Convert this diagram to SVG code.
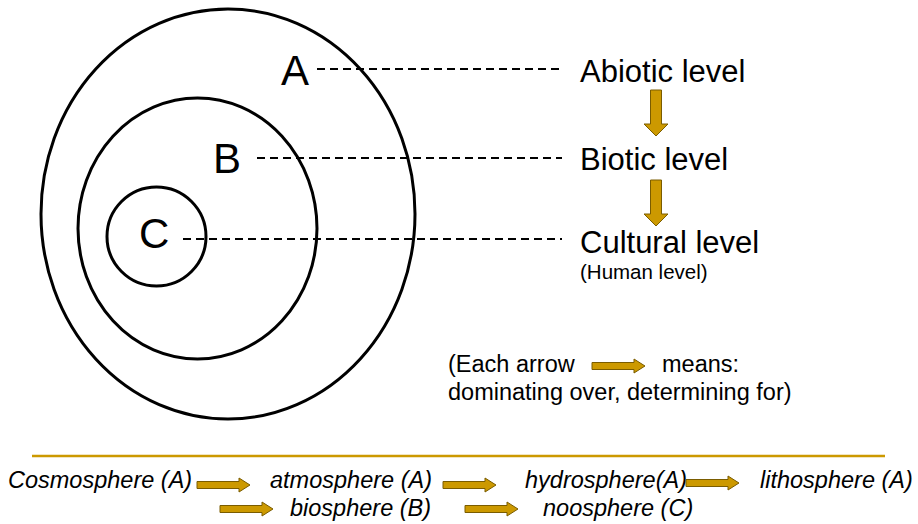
<svg xmlns="http://www.w3.org/2000/svg" xmlns:xlink="http://www.w3.org/1999/xlink" width="918" height="524" viewBox="0 0 918 524">
<style>
.ring{fill:none;stroke:#000;stroke-width:3}
.dash{fill:none;stroke:#000;stroke-width:2;stroke-dasharray:8 5}
.big{font-family:"Liberation Sans",Arial,sans-serif;font-size:42px;fill:#000}
.lvl{font-family:"Liberation Sans",Arial,sans-serif;font-size:31px;fill:#000}
.sub{font-family:"Liberation Sans",Arial,sans-serif;font-size:20.5px;fill:#000}
.leg{font-family:"Liberation Sans",Arial,sans-serif;font-size:23.5px;fill:#000}
.sph{font-family:"Liberation Sans",Arial,sans-serif;font-size:23.5px;font-style:italic;fill:#000}
.arr{fill:#CC9900;stroke:#7a5c00;stroke-width:1}
</style>
<defs>
<path id="harrow" class="arr" d="M0,-3.5 H42 V-7 L53,0 L42,7 V3.5 H0 Z"/>
<path id="varrow" class="arr" d="M-5.5,0 H5.5 V34 H12 L0,46 L-12,34 H-5.5 Z"/>
</defs>
<g id="rings">
<ellipse id="ringA" class="ring" cx="228" cy="214" rx="187" ry="205"/>
<ellipse id="ringB" class="ring" cx="197.5" cy="228.5" rx="119.5" ry="130.5"/>
<ellipse id="ringC" class="ring" cx="156.5" cy="236.5" rx="49.5" ry="49.5"/>
</g>
<g id="connectors">
<line class="dash" x1="317" y1="69" x2="562" y2="69"/>
<line class="dash" x1="257" y1="158" x2="562" y2="158"/>
<line class="dash" x1="183" y1="239" x2="562" y2="239"/>
<use xlink:href="#varrow" x="656" y="90"/>
<use xlink:href="#varrow" x="656" y="180"/>
</g>
<g id="labelA"><text class="big" x="281" y="85">A</text></g>
<g id="labelB"><text class="big" x="213" y="173">B</text></g>
<g id="labelC"><text class="big" x="139" y="248">C</text></g>
<g id="abiotic"><text class="lvl" x="580" y="82">Abiotic level</text></g>
<g id="biotic"><text class="lvl" x="580" y="170">Biotic level</text></g>
<g id="cultural"><text class="lvl" x="580" y="253">Cultural level</text><text class="sub" x="580" y="279">(Human level)</text></g>
<g id="legend">
<text class="leg" x="448" y="372">(Each arrow</text>
<use xlink:href="#harrow" x="592" y="366"/>
<text class="leg" x="662" y="372">means:</text>
<text class="leg" x="448" y="400">dominating over, determining for)</text>
</g>
<line id="divider" x1="32" y1="456" x2="885" y2="456" stroke="#CC9900" stroke-width="2.5"/>
<g id="spheres">
<text class="sph" x="8" y="488">Cosmosphere (A)</text>
<use xlink:href="#harrow" x="197" y="485"/>
<text class="sph" x="270" y="488">atmosphere (A)</text>
<use xlink:href="#harrow" x="443" y="485"/>
<text class="sph" x="525" y="488">hydrosphere(A)</text>
<use xlink:href="#harrow" x="686" y="483"/>
<text class="sph" x="760" y="488">lithosphere (A)</text>
<use xlink:href="#harrow" x="220" y="509"/>
<text class="sph" x="290" y="516">biosphere (B)</text>
<use xlink:href="#harrow" x="465" y="509"/>
<text class="sph" x="543" y="516">noosphere (C)</text>
</g>
</svg>
